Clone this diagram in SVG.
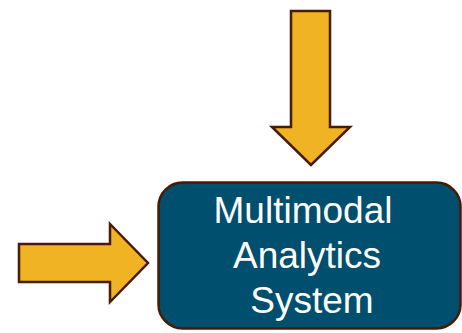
<svg xmlns="http://www.w3.org/2000/svg" width="462" height="333" viewBox="0 0 462 333">
  <style>
    .arrow { fill: #F0B323; stroke: #4A1A05; stroke-width: 2.5; stroke-linejoin: miter; }
    .box { fill: #004F6E; stroke: #4A1A05; stroke-width: 2.5; }
    .label { font-family: "Liberation Sans", Arial, sans-serif; font-size: 37px; fill: #FFFFFF; text-anchor: middle; }
  </style>
  <g id="connectors">
    <!-- downward input arrow -->
    <polygon class="arrow" points="291,11 330,11 330,127 350,127 311,165 272,127 291,127"/>
    <!-- rightward input arrow -->
    <polygon class="arrow" points="19,244 110,244 110,224 148,263 110,302 110,282 19,282"/>
  </g>
  <g id="system">
    <rect class="box" x="158.5" y="182.5" width="302" height="146" rx="24" ry="24"/>
    <text class="label" x="303" y="223">Multimodal</text>
    <text class="label" x="307" y="268">Analytics</text>
    <text class="label" x="312" y="313">System</text>
  </g>
</svg>
